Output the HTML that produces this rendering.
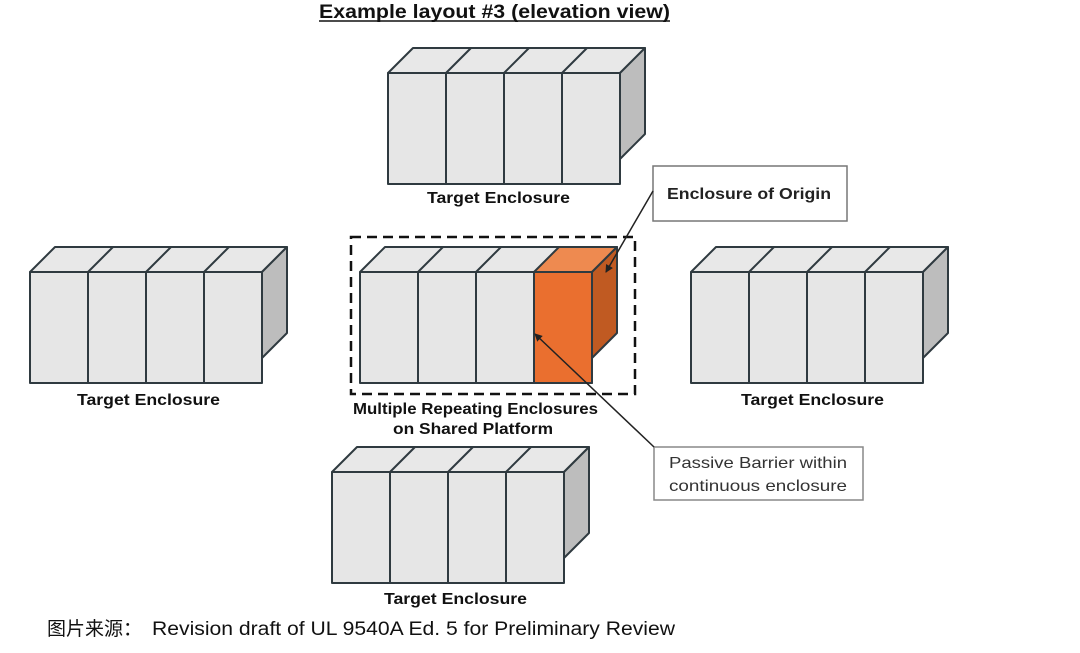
<!DOCTYPE html>
<html><head><meta charset="utf-8"><style>
body{margin:0;background:#fff;width:1080px;height:653px;overflow:hidden}
svg{display:block}
text{font-family:"Liberation Sans",Arial,sans-serif}
</style></head><body>
<svg width="1080" height="653" viewBox="0 0 1080 653">
<defs>
<marker id="ah" markerWidth="8" markerHeight="8" refX="7" refY="4" orient="auto" markerUnits="userSpaceOnUse"><path d="M0,0 L8,4 L0,8 z" fill="#222"/></marker>
<g id="enc" stroke="#2f3a40" stroke-width="2" stroke-linejoin="round">
<polygon points="0,25 25,0 257,0 232,25" fill="#e8e8e8"/>
<polygon points="232,25 257,0 257,86 232,111" fill="#bdbdbd"/>
<rect x="0" y="25" width="232" height="111" fill="#e6e6e6"/>
<line x1="58" y1="25" x2="58" y2="136"/><line x1="116" y1="25" x2="116" y2="136"/><line x1="174" y1="25" x2="174" y2="136"/>
<line x1="58" y1="25" x2="83" y2="0"/><line x1="116" y1="25" x2="141" y2="0"/><line x1="174" y1="25" x2="199" y2="0"/>
</g>
</defs>
<text x="319" y="18" font-size="19" font-weight="bold" fill="#111" textLength="351" lengthAdjust="spacingAndGlyphs">Example layout #3 (elevation view)</text>
<line x1="319" y1="21" x2="670" y2="21" stroke="#111" stroke-width="1.5"/>
<use href="#enc" x="388" y="48"/>
<use href="#enc" x="30" y="247"/>
<use href="#enc" x="691" y="247"/>
<use href="#enc" x="332" y="447"/>
<g transform="translate(360,247)" stroke="#2f3a40" stroke-width="2" stroke-linejoin="round">
<polygon points="0,25 25,0 257,0 232,25" fill="#e8e8e8"/>
<rect x="0" y="25" width="232" height="111" fill="#e6e6e6"/>
<line x1="58" y1="25" x2="58" y2="136"/><line x1="116" y1="25" x2="116" y2="136"/>
<line x1="58" y1="25" x2="83" y2="0"/><line x1="116" y1="25" x2="141" y2="0"/>
<polygon points="174,25 199,0 257,0 232,25" fill="#ee8a50"/>
<polygon points="232,25 257,0 257,86 232,111" fill="#c05a22"/>
<rect x="174" y="25" width="58" height="111" fill="#ea6f2f"/>
</g>
<rect x="351" y="237" width="284" height="157" fill="none" stroke="#111" stroke-width="2.5" stroke-dasharray="10,6"/>
<rect x="653" y="166" width="194" height="55" fill="#fff" stroke="#777" stroke-width="1.5"/>
<text x="667" y="199" font-size="16" font-weight="bold" fill="#222" textLength="164" lengthAdjust="spacingAndGlyphs">Enclosure of Origin</text>
<line x1="653" y1="191" x2="606" y2="272" stroke="#222" stroke-width="1.5" marker-end="url(#ah)"/>
<rect x="654" y="447" width="209" height="53" fill="#fff" stroke="#888" stroke-width="1.5"/>
<text x="669" y="468" font-size="16" fill="#333" textLength="178" lengthAdjust="spacingAndGlyphs">Passive Barrier within</text>
<text x="669" y="491" font-size="16" fill="#333" textLength="178" lengthAdjust="spacingAndGlyphs">continuous enclosure</text>
<line x1="654" y1="447" x2="535" y2="334" stroke="#222" stroke-width="1.5" marker-end="url(#ah)"/>
<g font-size="16" font-weight="bold" fill="#111">
<text x="427" y="203" textLength="143" lengthAdjust="spacingAndGlyphs">Target Enclosure</text>
<text x="77" y="405" textLength="143" lengthAdjust="spacingAndGlyphs">Target Enclosure</text>
<text x="741" y="405" textLength="143" lengthAdjust="spacingAndGlyphs">Target Enclosure</text>
<text x="384" y="604" textLength="143" lengthAdjust="spacingAndGlyphs">Target Enclosure</text>
<text x="353" y="414" textLength="245" lengthAdjust="spacingAndGlyphs">Multiple Repeating Enclosures</text>
<text x="393" y="434" textLength="160" lengthAdjust="spacingAndGlyphs">on Shared Platform</text>
</g>
<text x="47" y="635" font-size="19" fill="#111" font-family="'Noto Serif CJK SC',serif">图片来源：</text>
<text x="152" y="635" font-size="19" fill="#111" textLength="523" lengthAdjust="spacingAndGlyphs">Revision draft of UL 9540A Ed. 5 for Preliminary Review</text>
</svg>
</body></html>
